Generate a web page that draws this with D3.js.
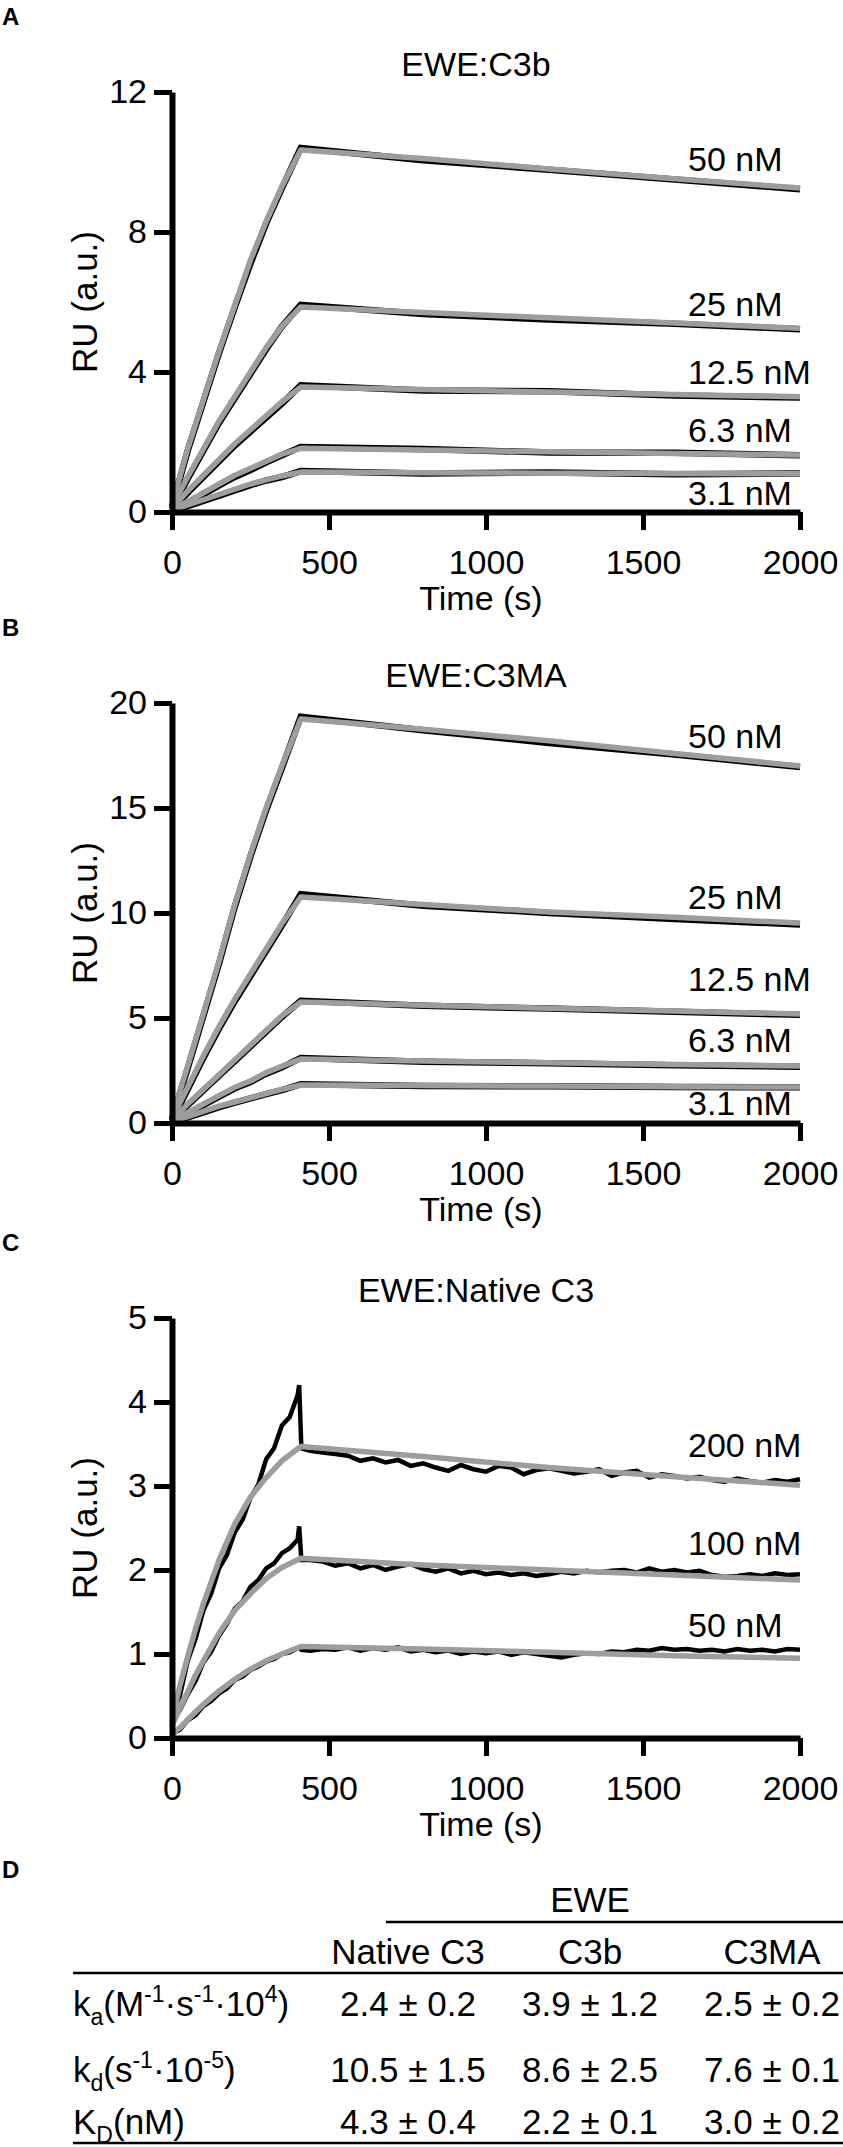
<!DOCTYPE html>
<html>
<head>
<meta charset="utf-8">
<script src="https://cdn.jsdelivr.net/npm/d3@7"></script>
<style>
body { margin: 0; background: #fff; }
text { font-family: "Liberation Sans", Arial, sans-serif; fill: #000; }
</style>
</head>
<body>
<div id="fig"></div>
<script>
// sampling times (s)
const tFitAB = [0, 50, 100, 150, 200, 250, 300, 350, 410, 800, 1200, 1600, 2000];
const tFitC = [0, 25, 50, 75, 100, 150, 200, 250, 300, 350, 410, 800, 1200, 1600, 2000];
const tObsC = [0, 25, 50, 75, 100, 125, 150, 175, 200, 225, 250, 275, 300, 325, 350, 375, 400, 405, 412,
  440, 480, 520, 560, 600, 640, 680, 720, 760, 800, 840, 880, 920, 960, 1000, 1040, 1080, 1120, 1160, 1200,
  1240, 1280, 1320, 1360, 1400, 1440, 1480, 1520, 1560, 1600, 1640, 1680, 1720, 1760, 1800, 1840, 1880, 1920, 1960, 2000];

// EWE:C3b (RU)
const concA = ["50 nM", "25 nM", "12.5 nM", "6.3 nM", "3.1 nM"];
const fitC3b50 = [0.2, 1.8, 3.2, 4.6, 5.9, 7.2, 8.3, 9.3, 10.34, 10.1, 9.8, 9.52, 9.26];
const fitC3b25 = [0.15, 1.0, 1.8, 2.6, 3.3, 4.0, 4.7, 5.3, 5.86, 5.7, 5.55, 5.4, 5.25];
const fitC3b12 = [0.1, 0.6, 1.05, 1.5, 1.95, 2.35, 2.75, 3.15, 3.57, 3.5, 3.43, 3.36, 3.29];
const fitC3b6 = [0.05, 0.3, 0.55, 0.8, 1.05, 1.25, 1.45, 1.65, 1.82, 1.77, 1.72, 1.67, 1.63];
const fitC3b3 = [0.05, 0.2, 0.35, 0.5, 0.65, 0.8, 0.92, 1.03, 1.14, 1.12, 1.11, 1.10, 1.09];
const obsC3b50 = [0.15, 1.75, 3.15, 4.55, 5.85, 7.1, 8.25, 9.25, 10.4, 10.05, 9.78, 9.5, 9.22];
const obsC3b25 = [0.1, 0.95, 1.75, 2.55, 3.25, 3.95, 4.65, 5.3, 5.92, 5.66, 5.5, 5.38, 5.22];
const obsC3b12 = [0.08, 0.55, 1.0, 1.45, 1.9, 2.3, 2.7, 3.1, 3.62, 3.47, 3.45, 3.33, 3.27];
const obsC3b6 = [0.03, 0.26, 0.5, 0.76, 1.0, 1.2, 1.42, 1.62, 1.86, 1.8, 1.7, 1.69, 1.62];
const obsC3b3 = [0.03, 0.17, 0.32, 0.47, 0.62, 0.77, 0.9, 1.0, 1.17, 1.1, 1.13, 1.08, 1.1];

// EWE:C3MA (RU)
const concB = ["50 nM", "25 nM", "12.5 nM", "6.3 nM", "3.1 nM"];
const fitMA50 = [0.3, 2.7, 5.2, 7.7, 10.4, 12.8, 15.0, 17.0, 19.24, 18.75, 18.2, 17.6, 17.0];
const fitMA25 = [0.2, 1.7, 3.2, 4.6, 5.9, 7.1, 8.3, 9.5, 10.76, 10.4, 10.05, 9.8, 9.52];
const fitMA12 = [0.15, 0.9, 1.6, 2.3, 3.0, 3.7, 4.4, 5.1, 5.76, 5.61, 5.47, 5.33, 5.19];
const fitMA6 = [0.1, 0.5, 0.9, 1.3, 1.7, 2.0, 2.4, 2.7, 3.05, 2.95, 2.87, 2.79, 2.71];
const fitMA3 = [0.05, 0.3, 0.55, 0.8, 1.0, 1.2, 1.4, 1.6, 1.81, 1.78, 1.76, 1.73, 1.71];
const obsMA50 = [0.2, 2.6, 5.1, 7.6, 10.3, 12.7, 14.9, 16.9, 19.35, 18.7, 18.1, 17.55, 16.95];
const obsMA25 = [0.1, 1.6, 3.1, 4.5, 5.8, 7.0, 8.2, 9.4, 10.9, 10.35, 10.0, 9.72, 9.45];
const obsMA12 = [0.1, 0.85, 1.55, 2.25, 2.95, 3.65, 4.35, 5.05, 5.82, 5.58, 5.45, 5.3, 5.15];
const obsMA6 = [0.05, 0.45, 0.85, 1.25, 1.65, 1.95, 2.35, 2.65, 3.1, 2.92, 2.85, 2.75, 2.68];
const obsMA3 = [0.02, 0.27, 0.5, 0.75, 0.97, 1.17, 1.37, 1.57, 1.85, 1.76, 1.75, 1.71, 1.7];

// EWE:Native C3 (RU)
const concC = ["200 nM", "100 nM", "50 nM"];
const fitNat200 = [0.2, 0.62, 0.97, 1.3, 1.6, 2.12, 2.55, 2.87, 3.1, 3.3, 3.47, 3.35, 3.22, 3.11, 3.01];
const fitNat100 = [0.15, 0.35, 0.55, 0.75, 0.92, 1.25, 1.52, 1.72, 1.9, 2.03, 2.14, 2.06, 2.0, 1.94, 1.88];
const fitNat50 = [0.05, 0.12, 0.22, 0.31, 0.4, 0.56, 0.7, 0.82, 0.92, 1.0, 1.09, 1.06, 1.02, 0.98, 0.95];
const obsNat200 = [0.3, 0.5, 0.92, 1.18, 1.52, 1.72, 2.02, 2.18, 2.45, 2.6, 2.86, 3.02, 3.32, 3.45, 3.72, 3.82, 4.08, 4.2, 3.45,
  3.42, 3.40, 3.38, 3.36, 3.30, 3.33, 3.28, 3.31, 3.24, 3.27, 3.22, 3.18, 3.25, 3.20, 3.17, 3.24, 3.22, 3.14, 3.19, 3.21,
  3.18, 3.15, 3.17, 3.20, 3.12, 3.16, 3.18, 3.10, 3.14, 3.12, 3.09, 3.11, 3.07, 3.05, 3.09, 3.06, 3.04, 3.07, 3.05, 3.08];
const obsNat100 = [0.2, 0.33, 0.52, 0.68, 0.9, 1.03, 1.22, 1.36, 1.54, 1.63, 1.8, 1.88, 2.02, 2.08, 2.2, 2.26, 2.36, 2.52, 2.12,
  2.12, 2.10, 2.05, 2.08, 2.02, 2.06, 2.00, 2.04, 2.07, 2.01, 1.98, 2.02, 1.96, 1.99, 1.95, 1.97, 1.94, 1.96, 1.93, 1.95,
  1.98, 1.96, 1.99, 1.97, 1.99, 2.00, 1.97, 2.02, 1.98, 2.00, 1.97, 1.99, 1.94, 1.92, 1.93, 1.95, 1.93, 1.96, 1.94, 1.95];
const obsNat50 = [0.05, 0.1, 0.21, 0.27, 0.38, 0.44, 0.53, 0.59, 0.69, 0.73, 0.81, 0.85, 0.91, 0.94, 1.0, 1.02, 1.07, 1.08, 1.05,
  1.04, 1.06, 1.05, 1.08, 1.04, 1.07, 1.05, 1.08, 1.03, 1.05, 1.02, 1.04, 1.00, 1.03, 1.01, 1.03, 0.99, 1.02, 1.00, 0.98,
  0.96, 0.99, 1.01, 1.00, 1.03, 1.02, 1.05, 1.04, 1.07, 1.05, 1.06, 1.04, 1.05, 1.03, 1.06, 1.04, 1.05, 1.03, 1.06, 1.05];

// D: kinetic constants
const tableCols = ["Native C3", "C3b", "C3MA"];
const kaMean = [2.4, 3.9, 2.5], kaSd = [0.2, 1.2, 0.2];
const kdMean = [10.5, 8.6, 7.6], kdSd = [1.5, 2.5, 0.1];
const KDMean = [4.3, 2.2, 3.0], KDSd = [0.4, 0.1, 0.2];

const xTicks = [0, 500, 1000, 1500, 2000];

const panels = [
  {letter: "A", title: "EWE:C3b", top: 92, yMax: 12, yTicks: [0, 4, 8, 12], tFit: tFitAB, tObs: tFitAB, obsW: 6.5,
   labels: concA, fits: [fitC3b50, fitC3b25, fitC3b12, fitC3b6, fitC3b3], obs: [obsC3b50, obsC3b25, obsC3b12, obsC3b6, obsC3b3],
   labelDy: [-29, -24, -25, -25, 19]},
  {letter: "B", title: "EWE:C3MA", top: 703, yMax: 20, yTicks: [0, 5, 10, 15, 20], tFit: tFitAB, tObs: tFitAB, obsW: 6.5,
   labels: concB, fits: [fitMA50, fitMA25, fitMA12, fitMA6, fitMA3], obs: [obsMA50, obsMA25, obsMA12, obsMA6, obsMA3],
   labelDy: [-30, -26, -35, -26, 16]},
  {letter: "C", title: "EWE:Native C3", top: 1318, yMax: 5, yTicks: [0, 1, 2, 3, 4, 5], tFit: tFitC, tObs: tObsC, obsW: 4.5,
   labels: concC, fits: [fitNat200, fitNat100, fitNat50], obs: [obsNat200, obsNat100, obsNat50],
   labelDy: [-40, -37, -33]}
];

const left = 172, plotW = 628, plotH = 420;
const fontFam = '"Liberation Sans", Arial, sans-serif';

const svg = d3.select("#fig")
  .append("svg")
    .attr("width", 843)
    .attr("height", 2147);

const x = d3.scaleLinear().domain([0, 2000]).range([0, plotW]);

panels.forEach(p => {
  const g = svg.append("g").attr("transform", "translate(" + left + "," + p.top + ")");
  const y = d3.scaleLinear().domain([0, p.yMax]).range([plotH, 0]);

  // raw sensorgrams (black) under the fitted curves (grey)
  p.obs.forEach(s => {
    g.append("path")
      .datum(s)
      .attr("fill", "none")
      .attr("stroke", "#000")
      .attr("stroke-width", p.obsW)
      .attr("stroke-linejoin", "miter")
      .attr("d", d3.line().x((d, i) => x(p.tObs[i])).y(d => y(d)));
  });
  p.fits.forEach(s => {
    g.append("path")
      .datum(s)
      .attr("fill", "none")
      .attr("stroke", "#9d9d9d")
      .attr("stroke-width", 5.5)
      .attr("stroke-linejoin", "round")
      .attr("d", d3.line().x((d, i) => x(p.tFit[i])).y(d => y(d)));
  });

  // axes
  const xAxis = g.append("g")
    .attr("transform", "translate(0," + plotH + ")")
    .call(d3.axisBottom(x).tickValues(xTicks).tickSize(18).tickSizeOuter(0).tickPadding(20).tickFormat(d3.format("d")));
  const yAxis = g.append("g")
    .call(d3.axisLeft(y).tickValues(p.yTicks).tickSize(18).tickSizeOuter(0).tickPadding(7).tickFormat(d3.format("d")));
  [xAxis, yAxis].forEach(a => {
    a.select(".domain").attr("stroke", "#000").attr("stroke-width", 6);
    a.selectAll(".tick line").attr("stroke", "#000").attr("stroke-width", 5);
    a.selectAll(".tick text").attr("font-size", 34).attr("font-family", fontFam).attr("fill", "#000");
  });

  // concentration labels
  p.labels.forEach((lab, i) => {
    const last = p.fits[i][p.fits[i].length - 1];
    g.append("text")
      .attr("x", 516)
      .attr("y", y(last) + p.labelDy[i] + 12)
      .attr("font-size", 34)
      .text(lab);
  });

  g.append("text")
    .attr("x", plotW / 2 - 10)
    .attr("y", -16)
    .attr("text-anchor", "middle")
    .attr("font-size", 34)
    .text(p.title);

  g.append("text")
    .attr("x", plotW / 2 - 5)
    .attr("y", plotH + 98)
    .attr("text-anchor", "middle")
    .attr("font-size", 34)
    .text("Time (s)");

  g.append("text")
    .attr("transform", "translate(" + (85 - left) + "," + (plotH / 2) + ") rotate(-90)")
    .attr("dy", "0.35em")
    .attr("text-anchor", "middle")
    .attr("font-size", 35)
    .text("RU (a.u.)");

  svg.append("text")
    .attr("x", 2)
    .attr("y", p.top - 67)
    .attr("font-size", 24)
    .attr("font-weight", "bold")
    .text(p.letter);
});

// panel D table
svg.append("text")
  .attr("x", 2).attr("y", 1878)
  .attr("font-size", 24).attr("font-weight", "bold")
  .text("D");

const colX = d3.scalePoint().domain(tableCols).range([408, 772]);
const tfs = 35;
const fmt = d3.format(".1f");

svg.append("text")
  .attr("x", colX("C3b")).attr("y", 1912)
  .attr("text-anchor", "middle").attr("font-size", tfs)
  .text("EWE");
svg.append("line").attr("x1", 386).attr("x2", 843).attr("y1", 1922).attr("y2", 1922)
  .attr("stroke", "#000").attr("stroke-width", 2.5);

svg.selectAll(".colhead")
  .data(tableCols)
  .enter().append("text")
    .attr("class", "colhead")
    .attr("x", d => colX(d))
    .attr("y", 1964)
    .attr("text-anchor", "middle")
    .attr("font-size", tfs)
    .text(d => d);
svg.append("line").attr("x1", 73).attr("x2", 843).attr("y1", 1973).attr("y2", 1973)
  .attr("stroke", "#000").attr("stroke-width", 2.5);

const rows = [
  {y: 2016, mean: kaMean, sd: kaSd,
   parts: [["k", 0], ["a", 1], ["(M", 0], ["-1", 2], ["\u00b7s", 0], ["-1", 2], ["\u00b710", 0], ["4", 2], [")", 0]]},
  {y: 2082, mean: kdMean, sd: kdSd,
   parts: [["k", 0], ["d", 1], ["(s", 0], ["-1", 2], ["\u00b710", 0], ["-5", 2], [")", 0]]},
  {y: 2134, mean: KDMean, sd: KDSd,
   parts: [["K", 0], ["D", 1], ["(nM)", 0]]}
];

rows.forEach(r => {
  const t = svg.append("text").attr("x", 73).attr("y", r.y).attr("font-size", tfs);
  let shift = 0;
  r.parts.forEach(pt => {
    const target = pt[1] === 1 ? 9 : pt[1] === 2 ? -14 : 0;
    t.append("tspan")
      .attr("dy", target - shift)
      .attr("font-size", pt[1] ? 23 : tfs)
      .text(pt[0]);
    shift = target;
  });
  tableCols.forEach((c, i) => {
    svg.append("text")
      .attr("x", colX(c))
      .attr("y", r.y)
      .attr("text-anchor", "middle")
      .attr("font-size", tfs)
      .text(fmt(r.mean[i]) + " \u00b1 " + fmt(r.sd[i]));
  });
});
svg.append("line").attr("x1", 73).attr("x2", 843).attr("y1", 2143).attr("y2", 2143)
  .attr("stroke", "#000").attr("stroke-width", 2.5);
</script>
</body>
</html>
